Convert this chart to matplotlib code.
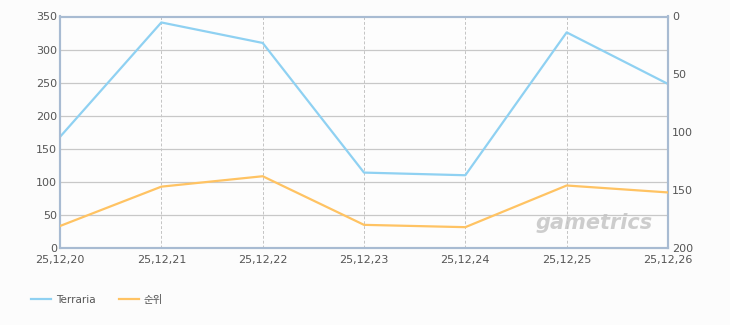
import matplotlib
matplotlib.use('Agg')
import matplotlib.pyplot as plt

plt.rcParams['font.family'] = ['DejaVu Sans', 'Noto Sans CJK KR']

dates_lbl = ['25,12,20', '25,12,21', '25,12,22', '25,12,23', '25,12,24', '25,12,25', '25,12,26']
terraria = [168, 341, 310, 114, 110, 326, 248]
rank = [181, 147, 138, 180, 182, 146, 152]

blue = '#8fd1f2'
orange = '#ffc363'
spine_c = '#a8bbd2'
txt_c = '#555555'

fig = plt.figure(figsize=(7.3, 3.25), dpi=100, facecolor='#fcfcfc')
ax1 = fig.add_axes([60/730, 77/325, 608/730, 231.5/325])
ax1.set_facecolor('#fdfdfd')

x = list(range(len(dates_lbl)))
l1, = ax1.plot(x, terraria, color=blue, lw=1.6, label='Terraria', zorder=3)
ax1.set_xlim(0, len(x) - 1)
ax1.set_ylim(0, 350)
ax1.set_yticks(range(0, 351, 50))
ax1.set_xticks(x)
ax1.set_xticklabels(dates_lbl)
ax1.grid(axis='y', color='#c8c8c8', lw=0.9)
ax1.grid(axis='x', color='#c4c4c4', lw=0.7, ls=(0, (3, 2)))
ax1.set_axisbelow(True)
ax1.tick_params(axis='y', length=0, labelsize=8, colors=txt_c, pad=2)
ax1.tick_params(axis='x', length=0, labelsize=8, colors=txt_c, pad=5)

ax2 = ax1.twinx()
l2, = ax2.plot(x, rank, color=orange, lw=1.6, label='순위', zorder=3)
ax2.set_ylim(200, 0)
ax2.set_yticks(range(0, 201, 50))
ax2.tick_params(length=0, labelsize=8, colors=txt_c, pad=3)

for a in (ax1, ax2):
    for s in a.spines.values():
        s.set_color(spine_c)
        s.set_linewidth(1.5)

ax1.text(0.975, 0.065, 'gametrics', transform=ax1.transAxes, ha='right', va='bottom',
         fontsize=15, fontweight='bold', style='italic', color='#c2c2c2', alpha=0.8, zorder=1)

fig.legend(handles=[l1, l2], loc='lower left', bbox_to_anchor=(22/730, 11/325),
           ncol=2, frameon=False, fontsize=7.5, handlelength=1.9, handletextpad=0.5,
           columnspacing=2.2, labelcolor=txt_c)

fig.savefig('out.png', dpi=100, facecolor=fig.get_facecolor())
